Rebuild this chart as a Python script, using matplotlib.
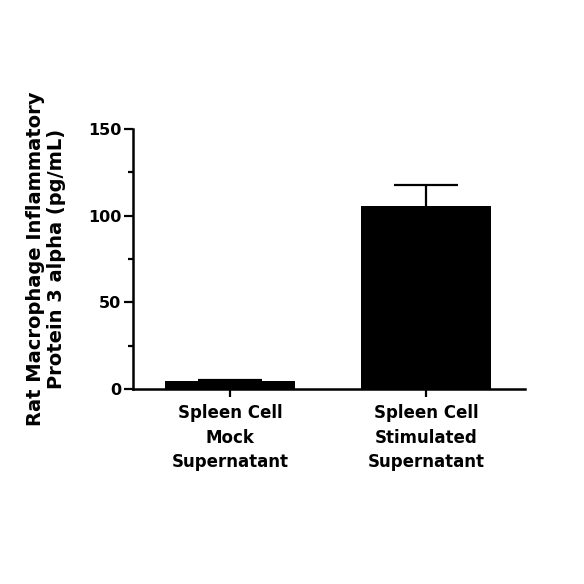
import matplotlib.pyplot as plt
import numpy as np
from matplotlib.ticker import MultipleLocator

categories = ['Spleen Cell\nMock\nSupernatant', 'Spleen Cell\nStimulated\nSupernatant']
means = [4.6, 105.5]
errors = [0.8, 12.0]

plt.rcParams['font.family'] = 'DejaVu Sans'
plt.rcParams['font.weight'] = 'bold'

fig = plt.figure(figsize=(5.84, 5.84), dpi=100)
ax = fig.add_axes([133 / 584, 1 - 389 / 584, 392 / 584, 260 / 584])

x = np.arange(len(categories))
ax.bar(x, means, width=0.66, color='black', zorder=2)
_, caps, _ = ax.errorbar(x, means, yerr=[np.zeros(len(errors)), errors], fmt='none',
                         ecolor='black', elinewidth=1.6, capsize=23, capthick=1.6, zorder=1)
# only the upper cap is wanted
for c in caps:
    if np.allclose(c.get_ydata(), means):
        c.set_visible(False)

ax.set_xlim(-0.495, 1.505)
ax.set_ylim(0, 150)
ax.yaxis.set_major_locator(MultipleLocator(50))
ax.yaxis.set_minor_locator(MultipleLocator(25))
ax.set_xticks(x)
ax.set_xticklabels(categories, fontsize=12, fontweight='bold', linespacing=1.45)
ax.tick_params(axis='y', which='major', length=6.5, width=1.6, labelsize=11.5, pad=2)
ax.tick_params(axis='y', which='minor', length=3.5, width=1.6)
ax.tick_params(axis='x', which='major', length=6, width=1.6, pad=5)
for lbl in ax.get_yticklabels():
    lbl.set_fontweight('bold')

for s in ['top', 'right']:
    ax.spines[s].set_visible(False)
for s in ['left', 'bottom']:
    ax.spines[s].set_linewidth(1.8)

ax.set_ylabel('Rat Macrophage Inflammatory\nProtein 3 alpha (pg/mL)',
              fontsize=14, fontweight='bold', linespacing=1.15)
ax.yaxis.set_label_coords(-0.17, 0.5)

fig.savefig('out.png', dpi=100)
